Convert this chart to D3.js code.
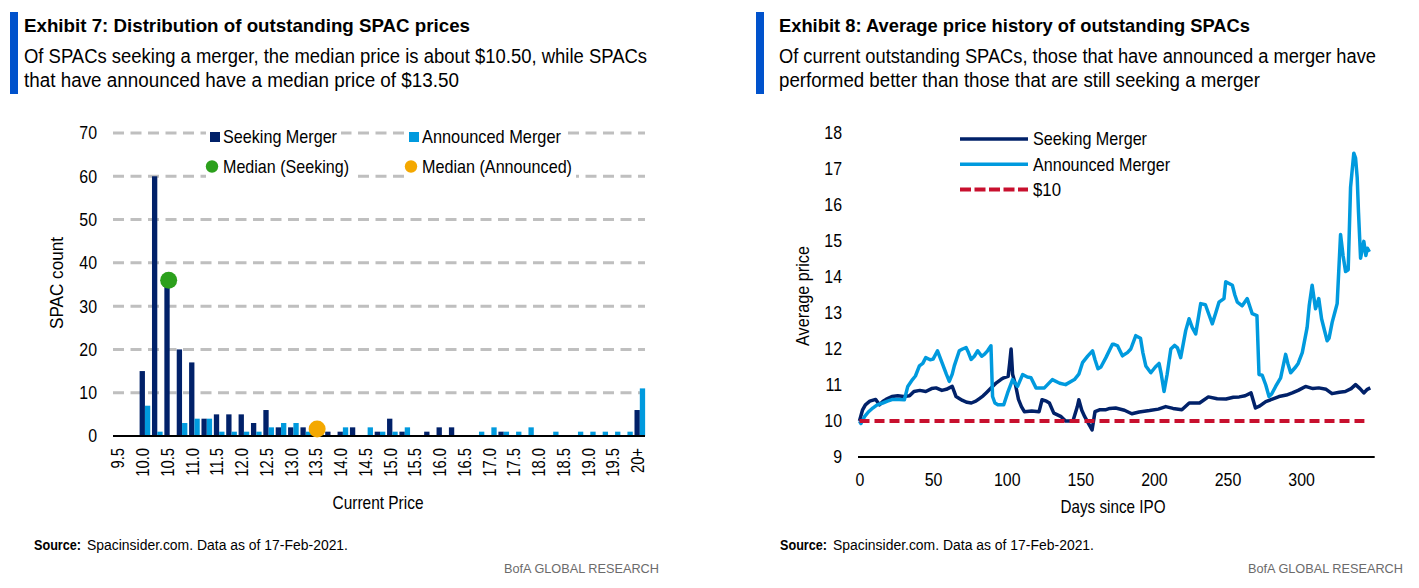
<!DOCTYPE html>
<html>
<head>
<meta charset="utf-8">
<script src="https://cdn.jsdelivr.net/npm/d3@7"></script>
<style>
  body { margin: 0; background: #fff; }
  svg { display: block; font-family: 'Liberation Sans Narrow', 'Arial Narrow', 'Liberation Sans', Arial, sans-serif; }
</style>
</head>
<body>
<svg id="chart" width="1419" height="588"></svg>
<script>
(function () {
    'use strict';

    // ---- Exhibit 7 data: SPAC count per price bin ----
    const priceBins = ['9.5', '9.75', '10.0', '10.25', '10.5', '10.75', '11.0', '11.25', '11.5', '11.75',
        '12.0', '12.25', '12.5', '12.75', '13.0', '13.25', '13.5', '13.75', '14.0', '14.25',
        '14.5', '14.75', '15.0', '15.25', '15.5', '15.75', '16.0', '16.25', '16.5', '16.75',
        '17.0', '17.25', '17.5', '17.75', '18.0', '18.25', '18.5', '18.75', '19.0', '19.25',
        '19.5', '19.75', '20+'];
    const seekingCount = [0, 0, 15, 60, 35, 20, 17, 4, 5, 5,
        5, 3, 6, 2, 2, 2, 1, 1, 1, 2,
        0, 1, 4, 1, 0, 1, 2, 2, 0, 0,
        0, 1, 0, 0, 0, 0, 0, 0, 0, 0,
        0, 0, 6];
    const announcedCount = [0, 0, 7, 1, 0, 3, 4, 4, 1, 1,
        1, 1, 2, 3, 3, 1, 1, 0, 2, 0,
        2, 1, 1, 2, 0, 0, 0, 0, 0, 1,
        2, 1, 1, 2, 0, 1, 0, 1, 1, 1,
        1, 1, 11];
    const binLabels = priceBins.filter((d, i) => i % 2 === 0);
    const countTicks = [0, 10, 20, 30, 40, 50, 60, 70];
    const medians = [
        { name: 'Median (Seeking)', bin: '10.5', count: 36 },
        { name: 'Median (Announced)', bin: '13.5', count: 1.6 }
    ];

    // ---- Exhibit 8 data: [days since IPO, average price] ----
    const seekingPrice = [
        [0, 10.0], [2, 10.3], [4, 10.45], [7, 10.55], [11, 10.6], [13.6, 10.45], [16, 10.55], [18, 10.6],
        [22, 10.68], [26, 10.7], [30, 10.68], [34, 10.7], [37, 10.82], [41, 10.85], [45, 10.82], [49, 10.9],
        [52, 10.92], [56, 10.85], [59, 10.88], [63, 10.96], [65.6, 10.68], [68, 10.62], [70, 10.57], [73, 10.52],
        [76, 10.5], [79, 10.55], [81, 10.61], [84, 10.7], [86, 10.78], [89, 10.9], [93, 11.06], [96, 11.15],
        [98, 11.2], [101, 11.24], [102, 11.6], [103, 12.0], [104, 11.3], [106, 11.0], [108, 10.6], [110, 10.4],
        [112, 10.26], [117, 10.28], [122, 10.26], [124, 10.59], [127, 10.55], [129, 10.5], [132, 10.22],
        [137, 10.12], [140, 10.0], [145, 10.0], [148, 10.4], [149, 10.59], [151, 10.3], [153, 10.12],
        [156, 9.9], [158, 9.75], [160, 10.26], [163, 10.31], [167, 10.31], [170, 10.35], [174, 10.36],
        [180, 10.3], [185, 10.2], [190, 10.25], [197, 10.29], [203, 10.33], [208, 10.4], [213, 10.35],
        [219, 10.31], [224, 10.5], [231, 10.5], [237, 10.67], [243, 10.62], [249, 10.61], [254, 10.66],
        [258, 10.67], [262, 10.7], [266, 10.78], [268, 10.5], [269, 10.36], [272, 10.42], [276, 10.54],
        [280, 10.6], [285, 10.68], [290, 10.72], [294, 10.78], [298, 10.85], [303, 10.96], [308, 10.9],
        [312, 10.92], [317, 10.88], [321, 10.76], [326, 10.8], [330, 10.82], [334, 10.9], [337, 11.01],
        [340, 10.9], [342.6, 10.78], [345, 10.88], [347, 10.92]
    ];
    const announcedPrice = [
        [0, 10.0], [1, 9.93], [3.4, 10.12], [6, 10.25], [9, 10.36], [12, 10.45], [15.8, 10.5], [19, 10.55],
        [22.6, 10.6], [27, 10.6], [30.5, 10.59], [32.8, 10.96], [36, 11.15], [38, 11.25], [40.7, 11.53],
        [43, 11.6], [45, 11.76], [48, 11.7], [50, 11.72], [53, 11.95], [56.5, 11.57], [59, 11.3], [61, 11.1],
        [63, 11.3], [64.4, 11.53], [67.8, 11.95], [70, 12.0], [72.4, 12.04], [74, 11.9], [75.8, 11.71],
        [78, 11.8], [80.3, 11.95], [83, 11.8], [84.8, 11.85], [87, 11.95], [89.3, 12.09], [90.4, 10.68],
        [92, 10.5], [94, 10.45], [98, 10.45], [100.6, 10.78], [104, 11.15], [107.4, 10.96], [110.8, 11.29],
        [114, 11.22], [116.5, 11.2], [119.9, 10.92], [125.6, 10.92], [131, 11.15], [136, 11.05], [140, 11.01],
        [146, 11.15], [149, 11.3], [151.5, 11.62], [155, 11.8], [158.3, 11.95], [160, 11.7], [162, 11.45],
        [164, 11.5], [167.4, 11.76], [171.8, 12.13], [173, 12.13], [175.3, 12.09], [178.6, 11.81], [182, 11.9],
        [184.3, 12.0], [187.7, 12.37], [190.9, 12.3], [192.5, 11.9], [194.5, 11.53], [197.9, 11.34],
        [201, 11.5], [203.5, 11.6], [205, 11.3], [206.9, 10.82], [209, 11.3], [211.5, 12.0], [214, 12.1],
        [216, 12.03], [218.2, 11.76], [221.6, 12.51], [223.9, 12.84], [226, 12.6], [228.4, 12.42],
        [231.8, 13.26], [235, 13.23], [237, 13.0], [239.7, 12.7], [242, 13.0], [244.2, 13.3], [247.6, 13.4],
        [248.8, 13.87], [253.3, 13.77], [255, 13.5], [256.7, 13.3], [260, 13.2], [263.4, 13.4], [266.8, 12.98],
        [270, 12.93], [271.4, 11.29], [273.6, 11.27], [276, 11.0], [278.2, 10.68], [280, 10.75], [282.7, 10.96],
        [286.1, 11.2], [289.5, 11.85], [291, 11.6], [292.9, 11.34], [296.3, 11.5], [298, 11.6], [300.8, 11.9],
        [304.1, 12.6], [305.5, 13.2], [307.5, 13.77], [309.8, 13.12], [312, 13.4], [313.9, 12.84], [316, 12.5],
        [317.7, 12.23], [319, 12.3], [321.1, 12.74], [322.8, 13.0], [324.5, 13.26], [326.8, 15.18],
        [328.5, 14.6], [330.2, 14.15], [332, 14.2], [333.6, 16.49], [335.8, 17.44], [337, 17.3], [338.1, 16.77],
        [339, 15.8], [340.4, 14.52], [342.6, 14.99], [344, 14.6], [345, 14.8], [346.4, 14.7]
    ];
    const tenDollar = [[0, 10], [343, 10]];
    const priceTicks = [9, 10, 11, 12, 13, 14, 15, 16, 17, 18];
    const dayTicks = [0, 50, 100, 150, 200, 250, 300];

    // ---- colours ----
    const NAVY = '#012169';
    const SKY = '#009ade';
    const RED = '#c8102e';
    const GREEN = '#2ca01c';
    const ORANGE = '#f4a800';
    const BAR_BLUE = '#0052cc';
    const GRID = '#bfbfbf';

    const svg = d3.select('#chart');

    // the original face is a condensed sans; squeeze the installed one to match
    const fit = (sel, w) => sel.attr('textLength', w).attr('lengthAdjust', 'spacingAndGlyphs');
    const condense = (sel, k) => sel.each(function () {
        const w = this.getComputedTextLength();
        d3.select(this).attr('textLength', w * k).attr('lengthAdjust', 'spacingAndGlyphs');
    });

    // ---- headers & footers ----
    const panels = [
        {
            barX: 10, textX: 24, right: 659,
            title: 'Exhibit 7: Distribution of outstanding SPAC prices', titleW: 446,
            lines: ['Of SPACs seeking a merger, the median price is about $10.50, while SPACs',
                'that have announced have a median price of $13.50'],
            lineW: [623, 435]
        },
        {
            barX: 756, textX: 779, right: 1403,
            title: 'Exhibit 8: Average price history of outstanding SPACs', titleW: 471,
            lines: ['Of current outstanding SPACs, those that have announced a merger have',
                'performed better than those that are still seeking a merger'],
            lineW: [597, 481]
        }
    ];

    panels.forEach(p => {
        svg.append('rect')
            .attr('x', p.barX).attr('y', 12)
            .attr('width', 8).attr('height', 82)
            .attr('fill', BAR_BLUE);
        svg.append('text')
            .attr('x', p.textX).attr('y', 32)
            .attr('font-size', 19).attr('font-weight', 'bold')
            .attr('fill', '#000')
            .text(p.title)
            .call(fit, p.titleW);
        p.lines.forEach((l, i) => {
            svg.append('text')
                .attr('x', p.textX).attr('y', 63 + i * 24)
                .attr('font-size', 19.5)
                .attr('fill', '#000')
                .text(l)
                .call(fit, p.lineW[i]);
        });
        svg.append('text')
            .attr('x', p.barX + 24).attr('y', 550)
            .attr('font-size', 15.5).attr('font-weight', 'bold')
            .text('Source:')
            .call(fit, 47);
        svg.append('text')
            .attr('x', p.barX + 77).attr('y', 550)
            .attr('font-size', 15.5)
            .text('Spacinsider.com.  Data as of 17-Feb-2021.')
            .call(fit, 261);
        svg.append('text')
            .attr('x', p.right - 155).attr('y', 573)
            .attr('font-size', 13)
            .attr('fill', '#6b6b6b')
            .text('BofA GLOBAL RESEARCH')
            .call(fit, 155);
    });

    // ================= Exhibit 7 =================
    const xBin = d3.scaleBand()
        .domain(priceBins)
        .range([114, 646])
        .paddingInner(0.14)
        .paddingOuter(0.07);
    const xSeries = d3.scaleBand()
        .domain(['seeking', 'announced'])
        .range([0, xBin.bandwidth()]);
    const yCount = d3.scaleLinear()
        .domain([0, 70])
        .range([436, 133]);

    const left = svg.append('g').attr('class', 'exhibit7');

    left.append('g').selectAll('line')
        .data(countTicks.filter(d => d > 0))
        .join('line')
        .attr('x1', 113).attr('x2', 645)
        .attr('y1', d => yCount(d)).attr('y2', d => yCount(d))
        .attr('stroke', GRID).attr('stroke-width', 3)
        .attr('stroke-dasharray', '11 6.5');

    const yAxisL = left.append('g')
        .attr('transform', 'translate(100,0)')
        .call(d3.axisLeft(yCount).tickValues(countTicks).tickSize(0).tickPadding(3));
    yAxisL.select('.domain').remove();
    yAxisL.attr('font-family', null).attr('font-size', null);
    yAxisL.selectAll('text').attr('font-size', 18.5).attr('fill', '#000').call(condense, 0.86);

    const seriesRows = [
        { key: 'seeking', values: seekingCount, color: NAVY },
        { key: 'announced', values: announcedCount, color: SKY }
    ];
    seriesRows.forEach(s => {
        left.append('g').selectAll('rect')
            .data(priceBins.map((b, i) => ({ bin: b, v: s.values[i] })).filter(d => d.v > 0))
            .join('rect')
            .attr('x', d => xBin(d.bin) + xSeries(s.key))
            .attr('y', d => yCount(d.v))
            .attr('width', xSeries.bandwidth())
            .attr('height', d => yCount(0) - yCount(d.v))
            .attr('fill', s.color);
    });

    left.append('line')
        .attr('x1', 113).attr('x2', 645)
        .attr('y1', yCount(0)).attr('y2', yCount(0))
        .attr('stroke', '#000').attr('stroke-width', 2);

    const xAxisL = left.append('g')
        .attr('transform', `translate(0,${yCount(0)})`)
        .call(d3.axisBottom(xBin).tickValues(binLabels).tickSize(0));
    xAxisL.select('.domain').remove();
    xAxisL.attr('font-family', null).attr('font-size', null);
    xAxisL.selectAll('text')
        .attr('font-size', 18)
        .attr('fill', '#000')
        .attr('transform', 'rotate(-90)')
        .attr('text-anchor', 'end')
        .attr('x', -12)
        .attr('y', -2)
        .attr('dy', '0.35em')
        .call(condense, 0.82);

    left.append('g').selectAll('circle')
        .data(medians)
        .join('circle')
        .attr('cx', d => xBin(d.bin) + xBin.bandwidth() / 2 - 1)
        .attr('cy', d => yCount(d.count))
        .attr('r', 8.5)
        .attr('fill', (d, i) => i === 0 ? GREEN : ORANGE);

    // legend
    const legendL = [
        { label: 'Seeking Merger', mark: 'square', color: NAVY, x: 210, y: 137, w: 114 },
        { label: 'Announced Merger', mark: 'square', color: SKY, x: 409, y: 137, w: 139 },
        { label: medians[0].name, mark: 'dot', color: GREEN, x: 210, y: 166.5, w: 126 },
        { label: medians[1].name, mark: 'dot', color: ORANGE, x: 409, y: 166.5, w: 150 }
    ];
    legendL.forEach(item => {
        const g = left.append('g');
        g.append('rect')
            .attr('fill', '#fff')
            .attr('x', item.x - 4).attr('y', item.y - 12)
            .attr('width', item.w + 21).attr('height', 24);
        if (item.mark === 'square') {
            g.append('rect')
                .attr('x', item.x).attr('y', item.y - 5)
                .attr('width', 10).attr('height', 10)
                .attr('fill', item.color);
        } else {
            g.append('circle')
                .attr('cx', item.x + 2).attr('cy', item.y)
                .attr('r', 6.2).attr('fill', item.color);
        }
        g.append('text')
            .attr('x', item.x + 13).attr('y', item.y)
            .attr('dy', '0.35em')
            .attr('font-size', 18.5)
            .text(item.label)
            .call(fit, item.w);
    });

    left.append('text')
        .attr('transform', 'translate(57,283) rotate(-90)')
        .attr('text-anchor', 'middle').attr('dy', '0.35em')
        .attr('font-size', 18.5)
        .text('SPAC count')
        .call(fit, 92);
    left.append('text')
        .attr('x', 378).attr('y', 509)
        .attr('text-anchor', 'middle')
        .attr('font-size', 18.5)
        .text('Current Price')
        .call(fit, 91);

    // ================= Exhibit 8 =================
    const xDay = d3.scaleLinear()
        .domain([0, 350])
        .range([859.5, 1374.7]);
    const yPrice = d3.scaleLinear()
        .domain([9, 18])
        .range([457, 133]);

    const right = svg.append('g').attr('class', 'exhibit8');

    const yAxisR = right.append('g')
        .attr('transform', 'translate(845,0)')
        .call(d3.axisLeft(yPrice).tickValues(priceTicks).tickSize(0).tickPadding(3));
    yAxisR.select('.domain').remove();
    yAxisR.attr('font-family', null).attr('font-size', null);
    yAxisR.selectAll('text').attr('font-size', 18.5).attr('fill', '#000').call(condense, 0.86);

    const xAxisR = right.append('g')
        .attr('transform', `translate(0,${yPrice(9)})`)
        .call(d3.axisBottom(xDay).tickValues(dayTicks).tickSize(0));
    xAxisR.select('.domain').remove();
    xAxisR.attr('font-family', null).attr('font-size', null);
    xAxisR.selectAll('text')
        .attr('font-size', 18.5).attr('fill', '#000')
        .attr('y', 29).attr('dy', 0)
        .call(condense, 0.86);

    right.append('line')
        .attr('x1', xDay(0) - 1.5).attr('x2', xDay(350))
        .attr('y1', yPrice(9)).attr('y2', yPrice(9))
        .attr('stroke', '#000').attr('stroke-width', 2);

    const line = d3.line()
        .x(d => xDay(d[0]))
        .y(d => yPrice(d[1]));

    const lineSeries = [
        { name: 'Seeking Merger', data: seekingPrice, color: NAVY, dash: null, w: 114 },
        { name: 'Announced Merger', data: announcedPrice, color: SKY, dash: null, w: 137 },
        { name: '$10', data: tenDollar, color: RED, dash: '10 5', w: 28 }
    ];

    lineSeries.forEach(s => {
        right.append('path')
            .datum(s.data)
            .attr('d', line)
            .attr('fill', 'none')
            .attr('stroke', s.color)
            .attr('stroke-width', s.dash ? 4 : 3.5)
            .attr('stroke-linejoin', 'round')
            .attr('stroke-dasharray', s.dash);
    });

    lineSeries.forEach((s, i) => {
        const ly = 139 + i * 25.3;
        right.append('line')
            .attr('x1', 960).attr('x2', 1028)
            .attr('y1', ly).attr('y2', ly)
            .attr('stroke', s.color)
            .attr('stroke-width', s.dash ? 4 : 3.5)
            .attr('stroke-dasharray', s.dash ? '11 3.5' : null);
        right.append('text')
            .attr('x', 1033).attr('y', ly)
            .attr('dy', '0.35em')
            .attr('font-size', 18.5)
            .text(s.name)
            .call(fit, s.w);
    });

    right.append('text')
        .attr('transform', 'translate(803,296) rotate(-90)')
        .attr('text-anchor', 'middle').attr('dy', '0.35em')
        .attr('font-size', 18.5)
        .text('Average price')
        .call(fit, 100);
    right.append('text')
        .attr('x', 1113).attr('y', 513)
        .attr('text-anchor', 'middle')
        .attr('font-size', 18.5)
        .text('Days since IPO')
        .call(fit, 105);
})();
</script>
</body>
</html>
